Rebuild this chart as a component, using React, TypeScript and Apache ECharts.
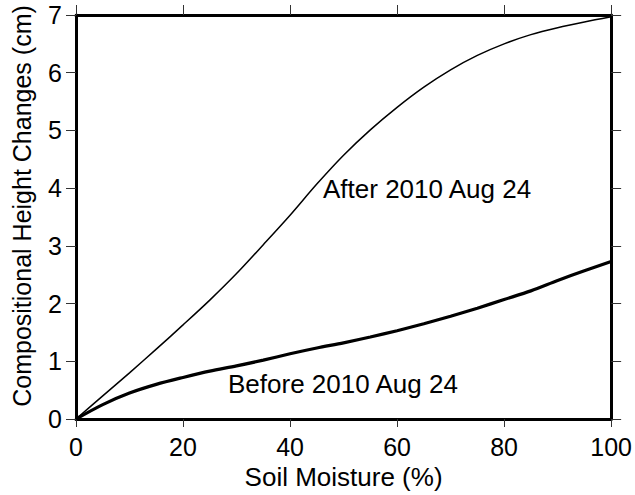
import React, { useEffect, useRef } from "react";
import * as echarts from "echarts";

const moisture = [0, 5, 10, 15, 20, 25, 30, 35, 40, 45, 50, 55, 60, 65, 70, 75, 80, 85, 90, 95, 100];
const afterValues = [0, 0.4, 0.8, 1.21, 1.63, 2.06, 2.52, 3.02, 3.53, 4.07, 4.57, 5.01, 5.4, 5.75, 6.05, 6.3, 6.5, 6.66, 6.78, 6.88, 6.97];
const beforeValues = [0, 0.25, 0.45, 0.6, 0.72, 0.83, 0.92, 1.02, 1.13, 1.23, 1.32, 1.42, 1.53, 1.65, 1.78, 1.92, 2.07, 2.22, 2.4, 2.57, 2.73];
const xTicks = { min: 0, max: 100, interval: 20 };
const yTicks = { min: 0, max: 7, interval: 1 };
const afterLabel = "After 2010 Aug 24";
const beforeLabel = "Before 2010 Aug 24";
const xTitle = "Soil Moisture (%)";
const yTitle = "Compositional Height Changes (cm)";

const FONT = "'Liberation Sans', Arial, Helvetica, sans-serif";

export default function App() {
  const ref = useRef<HTMLDivElement>(null);
  useEffect(() => {
    if (!ref.current) return;
    const chart = echarts.init(ref.current, undefined, { renderer: "svg" });
    const axisLine = { show: true, onZero: false, lineStyle: { color: "#000", width: 3 } };
    const tick = (len: number) => ({ show: true, inside: false, length: len, lineStyle: { color: "#333", width: 1 } });
    chart.setOption({
      animation: false,
      backgroundColor: "#fff",
      textStyle: { fontFamily: FONT },
      grid: { left: 76, right: 22, top: 15, bottom: 76 },
      xAxis: [
        {
          type: "value",
          position: "bottom",
          ...xTicks,
          axisLine,
          axisTick: tick(8),
          splitLine: { show: false },
          axisLabel: { color: "#000", fontSize: 25, fontFamily: FONT, margin: 15 },
          name: xTitle,
          nameLocation: "middle",
          nameGap: 35,
          nameTextStyle: { color: "#000", fontSize: 26, fontFamily: FONT },
        },
        {
          type: "value",
          position: "top",
          ...xTicks,
          axisLine,
          axisTick: tick(10),
          splitLine: { show: false },
          axisLabel: { show: false },
        },
      ],
      yAxis: [
        {
          type: "value",
          position: "left",
          ...yTicks,
          axisLine,
          axisTick: tick(10),
          splitLine: { show: false },
          axisLabel: { color: "#000", fontSize: 25, fontFamily: FONT, margin: 14 },
        },
        {
          type: "value",
          position: "right",
          ...yTicks,
          axisLine,
          axisTick: tick(10),
          splitLine: { show: false },
          axisLabel: { show: false },
        },
      ],
      series: [
        {
          type: "line",
          name: afterLabel,
          data: moisture.map((x, i) => [x, afterValues[i]]),
          smooth: 0.3,
          symbol: "none",
          lineStyle: { color: "#000", width: 1.5 },
          z: 3,
        },
        {
          type: "line",
          name: beforeLabel,
          data: moisture.map((x, i) => [x, beforeValues[i]]),
          smooth: 0.3,
          symbol: "none",
          lineStyle: { color: "#000", width: 3.2 },
          z: 3,
        },
      ],
      graphic: [
        {
          type: "text",
          x: 323,
          y: 189,
          style: { text: afterLabel, fill: "#000", fontSize: 26, fontFamily: FONT, textAlign: "left", textVerticalAlign: "middle" },
        },
        {
          type: "text",
          x: 228,
          y: 384,
          style: { text: beforeLabel, fill: "#000", fontSize: 26, fontFamily: FONT, textAlign: "left", textVerticalAlign: "middle" },
        },
        {
          type: "text",
          x: 22,
          y: 206,
          rotation: Math.PI / 2,
          style: { text: yTitle, fill: "#000", fontSize: 25, fontFamily: FONT, textAlign: "center", textVerticalAlign: "middle" },
        },
      ],
    });
    return () => chart.dispose();
  }, []);
  return <div ref={ref} style={{ width: 635, height: 495, position: "absolute", left: 0, top: 0 }} />;
}
